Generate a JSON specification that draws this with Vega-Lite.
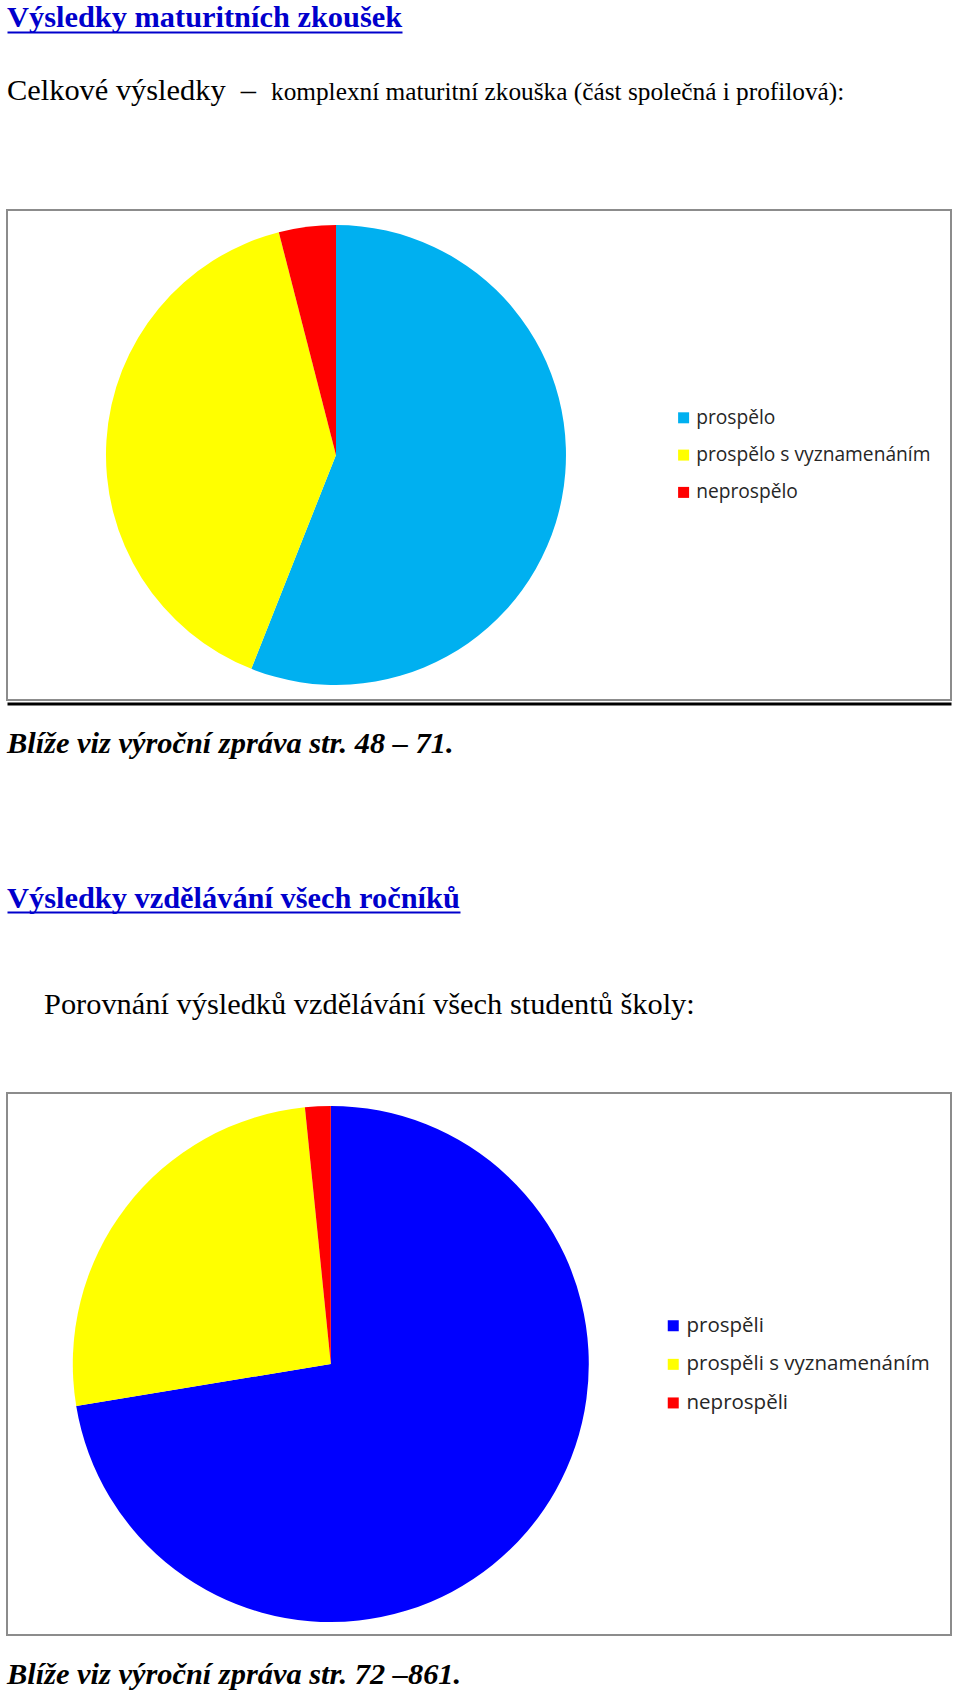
{
  "$schema": "https://vega.github.io/schema/vega-lite/v6.json",
  "background": "white",
  "padding": {"left": 6, "top": 0, "right": 0, "bottom": 0},
  "autosize": {"type": "pad"},
  "spacing": 0,
  "bounds": "flush",
  "resolve": {"scale": {"color": "independent", "theta": "independent", "x": "independent", "y": "independent"}, "legend": {"color": "independent"}},
  "config": {"view": {"stroke": null}},
  "vconcat": [
    {
      "width": 395, "height": 32,
      "data": {"values": [{"t": "Výsledky maturitních zkoušek"}]},
      "mark": {"type": "text", "align": "left", "baseline": "alphabetic", "font": "Liberation Serif", "fontWeight": "bold", "fontSize": 30.4, "color": "#0000cc", "dy": -5},
      "encoding": {
        "text": {"field": "t"},
        "x": {"datum": 0, "type": "quantitative", "scale": {"domain": [0, 1]}, "axis": {"domain": true, "domainColor": "#0000cc", "domainWidth": 2, "ticks": false, "labels": false, "grid": false, "title": null}},
        "y": {"datum": 0, "type": "quantitative", "scale": {"domain": [0, 1]}, "axis": null}
      }
    },
    {
      "width": 1, "height": 178,
      "data": {"values": [{"a": "Celkové výsledky\u00a0\u00a0–", "b": "komplexní maturitní zkouška (část společná i profilová):"}]},
      "encoding": {
        "x": {"datum": 0, "type": "quantitative", "scale": {"domain": [0, 1]}, "axis": null},
        "y": {"datum": 0, "type": "quantitative", "scale": {"domain": [0, 1]}, "axis": null}
      },
      "layer": [
        {
          "mark": {"type": "text", "align": "left", "baseline": "alphabetic", "font": "Liberation Serif", "fontSize": 30.4, "color": "black", "dy": -110},
          "encoding": {"text": {"field": "a"}}
        },
        {
          "mark": {"type": "text", "align": "left", "baseline": "alphabetic", "font": "Liberation Serif", "fontSize": 25.3, "color": "black", "dx": 264, "dy": -110},
          "encoding": {"text": {"field": "b"}}
        }
      ]
    },
    {
      "width": 944, "height": 490,
      "view": {"stroke": "#8c8c8c", "strokeWidth": 2},
      "data": {"values": [
        {"k": "prospělo", "v": 56, "o": 1},
        {"k": "prospělo s vyznamenáním", "v": 40, "o": 2},
        {"k": "neprospělo", "v": 4, "o": 3}
      ]},
      "mark": {"type": "arc", "radius": 230},
      "encoding": {
        "theta": {"field": "v", "type": "quantitative", "stack": true},
        "order": {"field": "o", "type": "quantitative", "sort": "ascending"},
        "color": {"field": "k", "type": "nominal", "sort": null,
          "scale": {"domain": ["prospělo", "prospělo s vyznamenáním", "neprospělo"], "range": ["#00b0f0", "#ffff00", "#ff0000"]},
          "legend": {"orient": "none", "legendX": 667, "legendY": 198.2, "title": null, "symbolType": "square", "symbolSize": 121, "symbolStrokeWidth": 0, "symbolOpacity": 1, "labelFont": "Open Sans", "labelFontSize": 19.2, "labelColor": "#262626", "labelLimit": 400, "rowPadding": 17.3, "labelOffset": 3, "padding": 0}},
        "x": {"datum": 0.3485, "type": "quantitative", "scale": {"domain": [0, 1]}, "axis": {"domain": true, "domainColor": "black", "domainWidth": 3, "offset": 3.5, "ticks": false, "labels": false, "grid": false, "title": null}}
      }
    },
    {
      "width": 1, "height": 53,
      "data": {"values": [{"t": "Blíže viz výroční zpráva str. 48 – 71."}]},
      "mark": {"type": "text", "align": "left", "baseline": "alphabetic", "font": "Liberation Serif", "fontWeight": "bold", "fontStyle": "italic", "fontSize": 30.4, "color": "black"},
      "encoding": {
        "text": {"field": "t"},
        "x": {"datum": 0, "type": "quantitative", "scale": {"domain": [0, 1]}, "axis": null},
        "y": {"datum": 0, "type": "quantitative", "scale": {"domain": [0, 1]}, "axis": null}
      }
    },
    {
      "width": 453, "height": 159,
      "data": {"values": [{"t": "Výsledky vzdělávání všech ročníků"}]},
      "mark": {"type": "text", "align": "left", "baseline": "alphabetic", "font": "Liberation Serif", "fontWeight": "bold", "fontSize": 30.4, "color": "#0000cc", "dy": -4},
      "encoding": {
        "text": {"field": "t"},
        "x": {"datum": 0, "type": "quantitative", "scale": {"domain": [0, 1]}, "axis": {"domain": true, "domainColor": "#0000cc", "domainWidth": 2, "ticks": false, "labels": false, "grid": false, "title": null}},
        "y": {"datum": 0, "type": "quantitative", "scale": {"domain": [0, 1]}, "axis": null}
      }
    },
    {
      "width": 1, "height": 181,
      "data": {"values": [{"t": "Porovnání výsledků vzdělávání všech studentů školy:"}]},
      "mark": {"type": "text", "align": "left", "baseline": "alphabetic", "font": "Liberation Serif", "fontSize": 30.4, "color": "black", "dx": 37, "dy": -79},
      "encoding": {
        "text": {"field": "t"},
        "x": {"datum": 0, "type": "quantitative", "scale": {"domain": [0, 1]}, "axis": null},
        "y": {"datum": 0, "type": "quantitative", "scale": {"domain": [0, 1]}, "axis": null}
      }
    },
    {
      "width": 944, "height": 542,
      "view": {"stroke": "#8c8c8c", "strokeWidth": 2},
      "data": {"values": [
        {"k": "prospěli", "v": 72.4, "o": 1},
        {"k": "prospěli s vyznamenáním", "v": 26, "o": 2},
        {"k": "neprospěli", "v": 1.6, "o": 3}
      ]},
      "mark": {"type": "arc", "radius": 258},
      "encoding": {
        "theta": {"field": "v", "type": "quantitative", "stack": true},
        "order": {"field": "o", "type": "quantitative", "sort": "ascending"},
        "color": {"field": "k", "type": "nominal", "sort": null,
          "scale": {"domain": ["prospěli", "prospěli s vyznamenáním", "neprospěli"], "range": ["#0000ff", "#ffff00", "#ff0000"]},
          "legend": {"orient": "none", "legendX": 656, "legendY": 222.5, "title": null, "symbolType": "square", "symbolSize": 121, "symbolStrokeWidth": 0, "symbolOpacity": 1, "labelFont": "Open Sans", "labelFontSize": 20.5, "labelColor": "#262626", "labelLimit": 400, "rowPadding": 17.6, "labelOffset": 3, "padding": 0}},
        "x": {"datum": 0.343, "type": "quantitative", "scale": {"domain": [0, 1]}, "axis": null}
      }
    },
    {
      "width": 1, "height": 49,
      "data": {"values": [{"t": "Blíže viz výroční zpráva str. 72 –861."}]},
      "mark": {"type": "text", "align": "left", "baseline": "alphabetic", "font": "Liberation Serif", "fontWeight": "bold", "fontStyle": "italic", "fontSize": 30.4, "color": "black"},
      "encoding": {
        "text": {"field": "t"},
        "x": {"datum": 0, "type": "quantitative", "scale": {"domain": [0, 1]}, "axis": null},
        "y": {"datum": 0, "type": "quantitative", "scale": {"domain": [0, 1]}, "axis": null}
      }
    }
  ]
}
